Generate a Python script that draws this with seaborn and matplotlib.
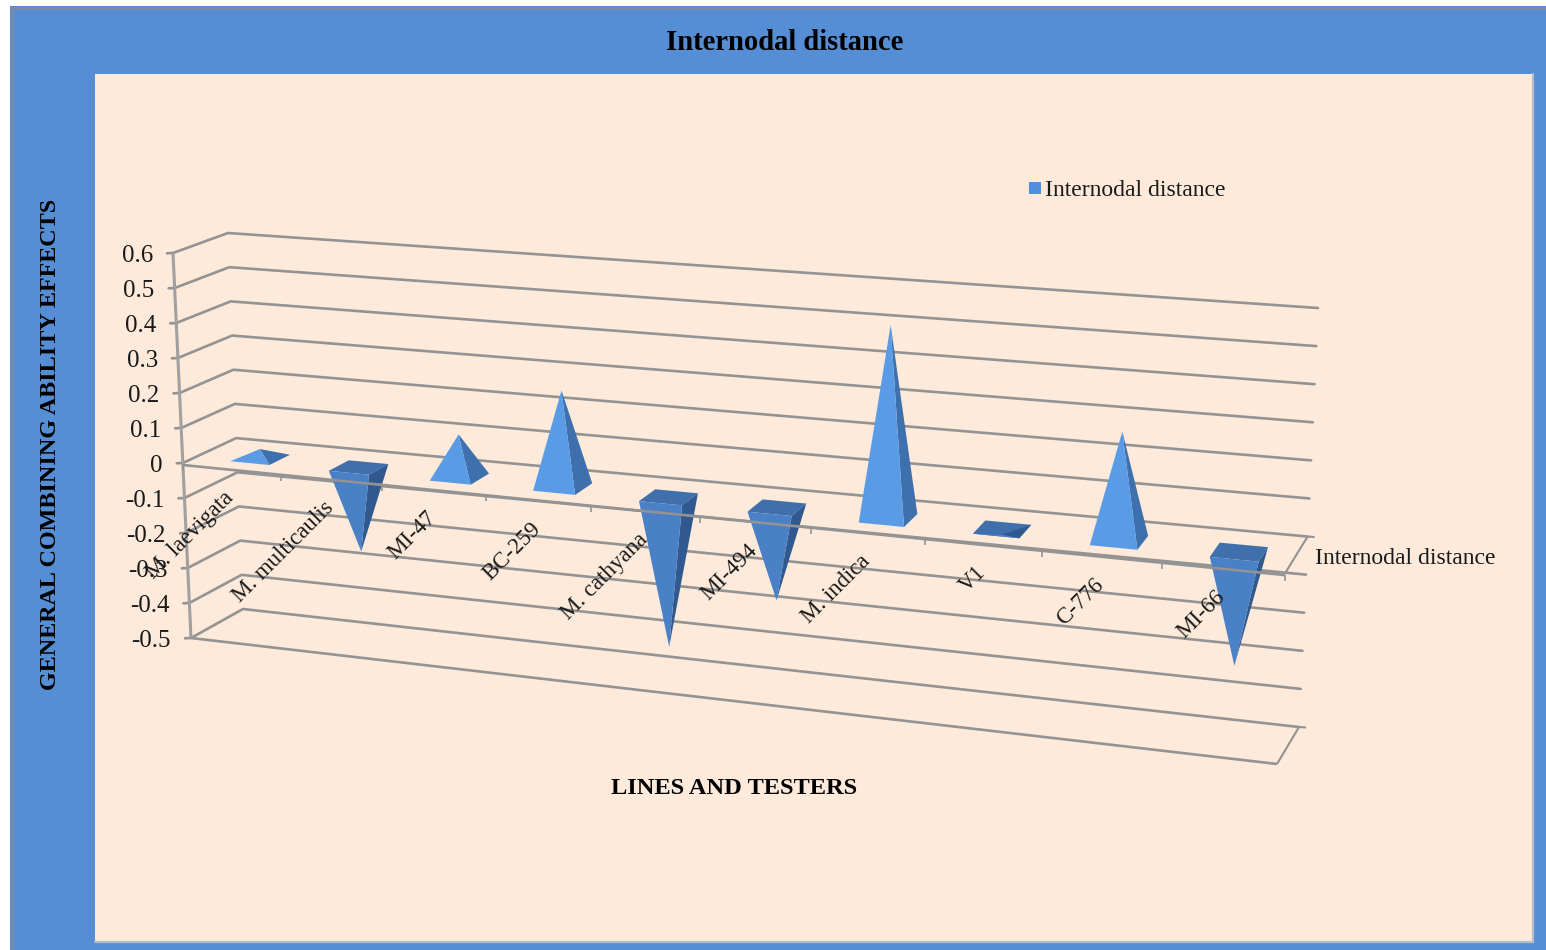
import numpy as np
import pandas as pd
import matplotlib
matplotlib.use("Agg")
import matplotlib.pyplot as plt
from matplotlib.patches import Rectangle
import seaborn as sns

categories = ["M. laevigata", "M. multicaulis", "MI-47", "BC-259", "M. cathyana",
              "MI-494", "M. indica", "V1", "C-776", "MI-66"]
values = [0.02, -0.245, 0.115, 0.265, -0.42, -0.26, 0.52, -0.02, 0.285, -0.305]
value_ticks = [0.6, 0.5, 0.4, 0.3, 0.2, 0.1, 0.0, -0.1, -0.2, -0.3, -0.4, -0.5]
value_labels = ["0.6", "0.5", "0.4", "0.3", "0.2", "0.1", "0", "-0.1", "-0.2", "-0.3", "-0.4", "-0.5"]
series_name = "Internodal distance"

# Oblique projection of the 3D chart box: corners at value 0.6 and value -0.5
FL = np.array([[173, 253], [191, 638]], float)
BL = np.array([[228, 233], [243, 609]], float)
BR = np.array([[1318, 308], [1299, 727]], float)
FR = np.array([[1295, 344], [1277, 764]], float)
PLANE = np.array([0, 2.0])


def on_edge(edge, v):
    f = (0.6 - v) / 1.1
    return edge[0] + (edge[1] - edge[0]) * f


def cat_frac(i):
    x = (95.26 * i + 183) / (-0.01162 * i + 1)
    return (x - 183) / 1102


def proj(i, d, v):
    s = cat_frac(i)
    left = on_edge(FL, v) + (on_edge(BL, v) - on_edge(FL, v)) * d
    right = on_edge(FR, v) + (on_edge(BR, v) - on_edge(FR, v)) * d
    return left + (right - left) * s


sns.set_theme(style="white")
plt.rcParams["font.family"] = ["Liberation Serif", "DejaVu Serif"]
fig = plt.figure(figsize=(15.46, 9.5), dpi=100, facecolor="white")
ax = fig.add_axes([0, 0, 1, 1])
ax.set_axis_off()

ax.add_patch(Rectangle((10, 6), 1536, 944, fc="#558ED5", ec="none", zorder=0))
ax.plot([12, 12, 1546], [950, 8, 8], color="#7B8CA3", lw=1.8, zorder=0.2, solid_joinstyle="miter")
ax.add_patch(Rectangle((95, 74), 1438, 868, fc="#FDEADA", ec="none", zorder=0.5))
ax.plot([95, 1533, 1533], [942, 942, 74], color="#B3BDCB", lw=1.6, zorder=0.6, solid_joinstyle="miter")

GRID = "#939393"
rows = []
for k, v in enumerate(value_ticks):
    a, b, c = on_edge(FL, v), on_edge(BL, v), on_edge(BR, v)
    tick = a + np.array([-6, 0.3])
    for p in (tick, a, b, c):
        rows.append({"line": k, "px": p[0], "py": p[1]})
grid = pd.DataFrame(rows)
sns.lineplot(data=grid, x="px", y="py", units="line", estimator=None, sort=False,
             color=GRID, lw=1.9, ax=ax, legend=False, zorder=1)


def seg(p, q, lw=1.9, z=1, color=GRID):
    ax.plot([p[0], q[0]], [p[1], q[1]], color=color, lw=lw, zorder=z, solid_capstyle="butt")


seg(on_edge(FL, 0.6), on_edge(FL, -0.5), lw=2.2, color="#A0A0A0")
seg(on_edge(FL, -0.5), on_edge(FR, -0.5))
for v in (0.0, -0.5):
    seg(on_edge(FR, v), on_edge(BR, v), lw=1.5)
    seg(on_edge(BR, v), on_edge(BR, v) + np.array([7, 0.5]), lw=1.5)

# Pyramids
LIGHT, LIGHT_SIDE = "#5A9BE6", "#3D70AC"
DARK, DARK_SIDE, DARK_TOP = "#4A80C6", "#30598F", "#3F70AB"
half, ci, d0, d1 = 0.2, 0.535, 0.28, 0.68
for i, v in enumerate(values):
    c = i + ci
    fl, fr = proj(c - half, d0, 0) + PLANE, proj(c + half, d0, 0) + PLANE
    br, bl = proj(c + half, d1, 0) + PLANE, proj(c - half, d1, 0) + PLANE
    apex = proj(c, (d0 + d1) / 2, v)
    if v >= 0:
        ax.fill(*zip(br, fr, apex), color=LIGHT_SIDE, lw=0, zorder=3)
        ax.fill(*zip(fl, fr, apex), color=LIGHT, lw=0, zorder=3)
    else:
        ax.fill(*zip(fl, fr, br, bl), color=DARK_TOP, lw=0, zorder=3)
        ax.fill(*zip(fr, br, apex), color=DARK_SIDE, lw=0, zorder=3)
        ax.fill(*zip(fl, fr, apex), color=DARK, lw=0, zorder=3)

# Front axis at value 0, drawn over the pyramids, with its ticks
seg(on_edge(FL, 0) + PLANE, on_edge(FR, 0) + PLANE, lw=1.9, z=4)
for i in range(len(categories) + 1):
    p = proj(i, 0, 0) + PLANE
    seg(p, p + np.array([0, 6]), lw=1.2, z=4)

# Text
TXT = "#1A1A1A"
for v, lab in zip(value_ticks, value_labels):
    p = on_edge(FL, v)
    ax.text(p[0] - 20, p[1] + 3, lab, ha="right", va="center", fontsize=18, color=TXT, zorder=6)
for i, lab in enumerate(categories):
    p = proj(i + 0.5, 0, 0)
    ax.text(p[0] - 1, p[1] + 27, lab, rotation=45, rotation_mode="anchor",
            ha="right", va="center", fontsize=16.5, color=TXT, zorder=6)

ax.text(785, 42, series_name, ha="center", va="center", fontsize=20.6, fontweight="bold", color="black", zorder=6)
ax.text(734, 788, "LINES AND TESTERS", ha="center", va="center", fontsize=17.6, fontweight="bold", color="black", zorder=6)
ax.text(50.5, 444, "GENERAL COMBINING ABILITY EFFECTS", rotation=90, ha="center", va="center",
        fontsize=17.4, fontweight="bold", color="black", zorder=6)
ax.add_patch(Rectangle((1029, 182), 12, 12, fc="#4F8FDC", ec="none", zorder=6))
ax.text(1045, 190, series_name, ha="left", va="center", fontsize=17, color=TXT, zorder=6)
ax.text(1315, 559, series_name, ha="left", va="center", fontsize=17, color=TXT, zorder=6)

ax.set_xlim(0, 1546)
ax.set_ylim(950, 0)
fig.savefig("out.png", dpi=100, facecolor="white")
